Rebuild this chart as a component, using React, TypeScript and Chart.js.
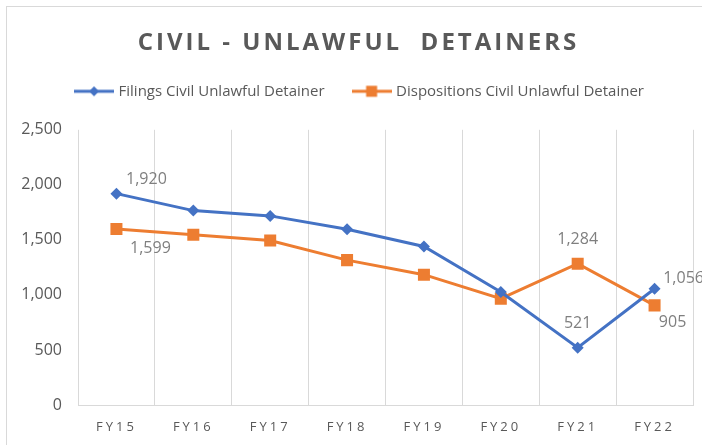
import React, { useEffect, useRef } from "react";
import { Chart, registerables } from "chart.js";

Chart.register(...registerables);

const categories = ["FY15", "FY16", "FY17", "FY18", "FY19", "FY20", "FY21", "FY22"];
const filings = [1920, 1766, 1718, 1597, 1440, 1026, 521, 1056];
const dispositions = [1599, 1546, 1495, 1316, 1184, 966, 1284, 905];
const yTicks = [0, 500, 1000, 1500, 2000, 2500];
const seriesNames = ["Filings Civil Unlawful Detainer", "Dispositions Civil Unlawful Detainer"];
const titleText = "CIVIL - UNLAWFUL  DETAINERS";
// indices of points that carry a value label, per series
const labelledFilings = [0, 6, 7];
const labelledDispositions = [0, 6, 7];

const BLUE = "#4472C4";
const ORANGE = "#ED7D31";
const TEXT = "#595959";
const LABEL = "#7f7f7f";
const GRID = "#d9d9d9";
const FONT = "'Open Sans', sans-serif";

// label offsets relative to point (style/layout, not data)
const labelOffsets: Record<string, [number, number]> = {
  "0-0": [30, -14],
  "0-6": [0, -24],
  "0-7": [29, -10],
  "1-0": [34, 19],
  "1-6": [0, -24],
  "1-7": [18, 17],
};

function legendImage(color: string, shape: "diamond" | "square") {
  const c = document.createElement("canvas");
  c.width = 40;
  c.height = 14;
  const ctx = c.getContext("2d")!;
  ctx.strokeStyle = color;
  ctx.lineWidth = 3;
  ctx.beginPath();
  ctx.moveTo(0, 7);
  ctx.lineTo(40, 7);
  ctx.stroke();
  ctx.fillStyle = color;
  if (shape === "diamond") {
    ctx.beginPath();
    ctx.moveTo(20, 2);
    ctx.lineTo(25, 7);
    ctx.lineTo(20, 12);
    ctx.lineTo(15, 7);
    ctx.closePath();
    ctx.fill();
  } else {
    ctx.fillRect(14.5, 1.5, 11, 11);
  }
  return c;
}

export default function App() {
  const ref = useRef<HTMLCanvasElement>(null);

  useEffect(() => {
    const canvas = ref.current!;
    const images = [legendImage(BLUE, "diamond"), legendImage(ORANGE, "square")];

    const spacingPlugin = {
      id: "spacing",
      afterInit(chart: any) {
        const lg = chart.legend;
        if (lg && !lg.__patched) {
          const f = lg.fit.bind(lg);
          lg.fit = () => {
            f();
            lg.height += 20;
          };
          const dl = lg.draw.bind(lg);
          lg.draw = (...a: any[]) => {
            const ctx = chart.ctx;
            ctx.save();
            ctx.translate(14, -1);
            dl(...a);
            ctx.restore();
          };
          lg.__patched = true;
        }
        const tb = chart.titleBlock;
        if (tb && !tb.__patched) {
          const d = tb.draw.bind(tb);
          tb.draw = (...a: any[]) => {
            const ctx = chart.ctx;
            ctx.save();
            ctx.translate(12, 3);
            (ctx as any).letterSpacing = "3px";
            d(...a);
            ctx.restore();
          };
          tb.__patched = true;
        }
      },
      afterLayout(chart: any) {
        const x = chart.scales.x;
        if (x && !x.__patched) {
          const d = x.drawLabels.bind(x);
          x.drawLabels = (...a: any[]) => {
            const ctx = chart.ctx;
            ctx.save();
            (ctx as any).letterSpacing = "3px";
            d(...a);
            ctx.restore();
          };
          x.__patched = true;
        }
      },
    };

    const valueLabels = {
      id: "valueLabels",
      afterDatasetsDraw(chart: any) {
        const ctx = chart.ctx;
        const lists = [labelledFilings, labelledDispositions];
        ctx.save();
        ctx.font = `16px ${FONT}`;
        ctx.fillStyle = LABEL;
        ctx.textAlign = "center";
        ctx.textBaseline = "middle";
        lists.forEach((idxs, di) => {
          const meta = chart.getDatasetMeta(di);
          const data = chart.data.datasets[di].data as number[];
          idxs.forEach((i) => {
            const p = meta.data[i];
            const off = labelOffsets[`${di}-${i}`] || [0, -15];
            ctx.fillText(data[i].toLocaleString("en-US"), p.x + off[0], p.y + off[1]);
          });
        });
        ctx.restore();
      },
    };

    const chart = new Chart(canvas, {
      type: "line",
      data: {
        labels: categories,
        datasets: [
          {
            label: seriesNames[0],
            data: filings,
            borderColor: BLUE,
            backgroundColor: BLUE,
            borderWidth: 3,
            pointStyle: "rectRot",
            pointRadius: 6,
            pointBorderWidth: 0,
            tension: 0,
          },
          {
            label: seriesNames[1],
            data: dispositions,
            borderColor: ORANGE,
            backgroundColor: ORANGE,
            borderWidth: 3,
            pointStyle: "rect",
            pointRadius: 8.5,
            pointBorderWidth: 0,
            tension: 0,
          },
        ],
      },
      options: {
        responsive: false,
        animation: false,
        layout: { padding: { left: 0, right: 9, top: 26, bottom: 0 } },
        plugins: {
          title: {
            display: true,
            text: titleText,
            color: TEXT,
            font: { family: FONT, size: 24, weight: "bold" as any },
            padding: { top: 0, bottom: 0 },
          },
          legend: {
            display: true,
            position: "top",
            labels: {
              usePointStyle: true,
              pointStyleWidth: 34,
              padding: 30,
              color: TEXT,
              font: { family: FONT, size: 15 },
              generateLabels: (ch: any) =>
                ch.data.datasets.map((ds: any, i: number) => ({
                  text: ds.label,
                  pointStyle: images[i],
                  fillStyle: ds.borderColor,
                  strokeStyle: ds.borderColor,
                  lineWidth: 0,
                  hidden: false,
                  datasetIndex: i,
                  fontColor: TEXT,
                })),
            },
          },
          tooltip: { enabled: false },
        },
        scales: {
          x: {
            offset: true,
            grid: { display: true, offset: true, color: GRID, lineWidth: 1, drawTicks: false },
            border: { display: true, color: GRID, width: 1 },
            ticks: { color: TEXT, font: { family: FONT, size: 13 }, padding: 14 },
            afterFit: (s: any) => {
              s.height = 40;
            },
          },
          y: {
            min: 0,
            max: 2500,
            grid: { display: false, drawTicks: false },
            border: { display: false },
            ticks: {
              color: TEXT,
              font: { family: FONT, size: 16 },
              padding: 16,
              callback: (v: any) => Number(v).toLocaleString("en-US"),
            },
            afterBuildTicks: (s: any) => {
              s.ticks = yTicks.map((v) => ({ value: v }));
            },
            afterFit: (s: any) => {
              s.width = 78;
            },
          },
        },
      },
      plugins: [spacingPlugin, valueLabels],
    });
    chart.update();

    return () => chart.destroy();
  }, []);

  return (
    <div
      style={{
        position: "fixed",
        left: 0,
        top: 0,
        width: 702,
        height: 445,
        background: "#fff",
        overflow: "hidden",
      }}
    >
      <div
        style={{
          position: "absolute",
          left: 6,
          top: 6,
          width: 720,
          height: 460,
          border: `1px solid ${GRID}`,
          boxSizing: "border-box",
        }}
      />
      <canvas
        ref={ref}
        width={702}
        height={445}
        style={{ position: "absolute", left: 0, top: 0, width: 702, height: 445 }}
      />
    </div>
  );
}
